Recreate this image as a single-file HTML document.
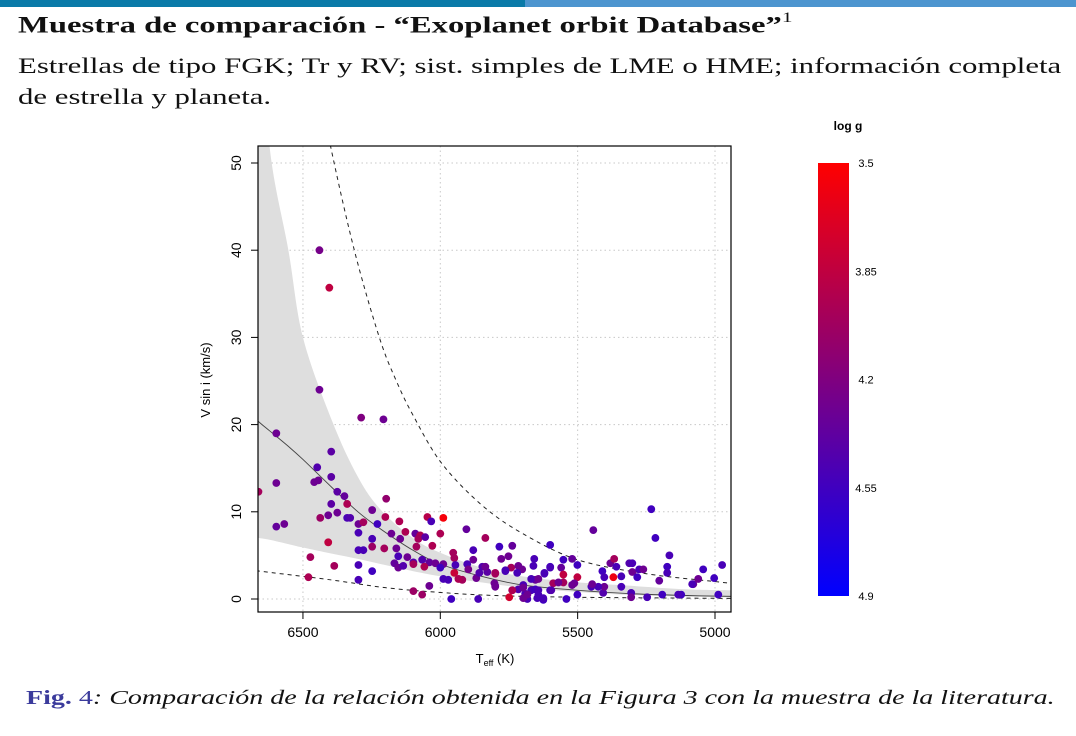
<!DOCTYPE html>
<html><head><meta charset="utf-8">
<style>
body{margin:0;width:1076px;height:736px;background:#fff;overflow:hidden;position:relative;font-family:"Liberation Serif",serif}
.bar1{position:absolute;left:0;top:0;width:525px;height:7px;background:#0a7aa8}
.bar2{position:absolute;left:525px;top:0;width:551px;height:7px;background:#4d95cf}
.title{position:absolute;left:18px;top:12px;font-size:23px;font-weight:bold;color:#111;white-space:nowrap;transform-origin:0 0;transform:scaleX(1.42)}
.title sup{font-weight:normal;font-size:15px;position:relative;top:-2px}
.sub{position:absolute;left:18px;top:50px;font-size:22px;line-height:31px;color:#111;white-space:nowrap;transform-origin:0 0;transform:scaleX(1.4)}
.cap{position:absolute;left:26px;top:687px;font-size:20px;font-style:italic;color:#111;white-space:nowrap;transform-origin:0 0;transform:scaleX(1.4)}
.cap b{font-style:normal;color:#3b3b9c}
.cap span{font-style:normal;color:#3b3b9c}
svg{position:absolute;left:0;top:0}
</style></head><body>
<div class="bar1"></div>
<div class="bar2"></div>
<div class="title">Muestra de comparación - “Exoplanet orbit Database”<sup>1</sup></div>
<div class="sub">Estrellas de tipo FGK; Tr y RV; sist. simples de LME o HME; información completa<br>de estrella y planeta.</div>
<div class="cap"><b>Fig.</b> <span>4</span>: Comparación de la relación obtenida en la Figura 3 con la muestra de la literatura.</div>
<svg id="chart" width="1076" height="736"></svg>
<script>
const xTicks=[6500,6000,5500,5000];
const yTicks=[0,10,20,30,40,50];
const curveT=[6700,6660,6622,6553,6500,6395,6300,6216,6100,6000,5850,5700,5500,5300,5100,4940];
const bandUpper=[90,70,52,40,30,20.5,14,10.2,7,5.3,3.6,2.6,1.9,1.5,1.1,1.0];
const bandLower=[7.2,7.0,6.8,6.3,5.9,5.2,4.6,4.0,3.2,2.6,1.9,1.3,0.8,0.45,0.25,0.2];
const centerV=[21.5,20.3,19.3,17.5,16.0,12.8,10.0,8.0,5.6,4.0,2.6,1.6,1.0,0.6,0.4,0.3];
const dashUT=[6460,6400,6313,6222,6160,6098,5996,5850,5700,5500,5250,5000,4940];
const dashUV=[62,52,40,30,25,21,15.6,10.8,7.5,4.5,2.9,2.0,1.8];
const dashLT=[6700,6659,6400,6200,6000,5800,5500,5000,4940];
const dashLV=[3.4,3.2,2.2,1.3,0.75,0.4,0.2,0.08,0.07];
const cbTicks=[3.5,3.85,4.2,4.55,4.9];
const pts=[[6440,40.0,4.25],[6404,35.7,3.85],[6440,24.0,4.3],[6288,20.8,4.2],[6207,20.6,4.3],[6597,19.0,4.3],[6397,16.9,4.4],[6448,15.1,4.45],[6597,13.3,4.3],[6459,13.4,4.3],[6444,13.6,4.3],[6397,14.0,4.4],[6375,12.3,4.4],[6349,11.8,4.35],[6339,10.9,3.95],[6197,11.5,4.1],[6397,10.9,4.4],[6662,12.3,4.0],[6248,10.2,4.3],[6375,9.9,4.3],[6408,9.6,4.3],[6437,9.3,4.05],[6339,9.3,4.5],[6328,9.3,4.45],[6298,8.6,4.3],[6280,8.8,4.0],[6229,8.6,4.55],[6200,9.4,3.95],[6149,8.9,3.95],[6047,9.4,3.9],[5989,9.3,3.55],[6033,8.9,4.5],[6597,8.3,4.35],[6568,8.6,4.3],[6298,7.6,4.5],[6408,6.5,3.85],[6473,4.8,4.0],[6480,2.5,3.95],[6386,3.8,4.0],[6298,5.6,4.5],[6298,2.2,4.5],[6248,3.2,4.55],[6298,3.9,4.5],[6248,6.9,4.5],[6280,5.6,4.5],
[6204,5.8,4.0],[6160,5.8,4.3],[6087,6.0,4.0],[6029,6.1,3.95],[6178,7.5,4.3],[6127,7.7,3.95],[6091,7.5,4.35],[6073,7.3,3.95],[6080,6.9,4.0],[6146,6.9,4.3],[6055,7.1,4.4],[6000,7.5,3.95],[5905,8.0,4.35],[5836,7.0,4.0],[6248,6.0,4.05],
[6153,4.9,4.5],[6120,4.8,4.3],[6167,4.1,4.35],[6098,4.2,4.45],[6066,4.5,4.45],[6040,4.2,4.35],[6018,4.1,4.3],[6153,3.6,4.3],[6135,3.8,4.45],[6098,4.0,4.0],[6058,3.7,3.95],[5989,4.0,4.3],[6000,3.6,4.55],[5953,5.3,4.0],[5949,4.7,4.0],[5945,3.9,4.5],[5880,5.6,4.5],[5880,4.5,4.3],[5902,4.0,4.5],[5898,3.4,4.25],[5847,3.7,4.45],[5829,3.1,4.4],[5800,3.0,4.0],[5785,6.0,4.55],[5778,4.6,4.3],[5752,4.9,4.3],[5738,6.1,4.35],[5763,3.2,4.5],[5742,3.6,4.0],[5716,3.8,4.3],[5702,3.4,4.3],[5658,4.6,4.5],[5661,3.8,4.5],[5600,6.2,4.55],[5600,3.7,4.55],[5560,3.6,4.35],[5552,4.5,4.55],[5589,1.8,4.0],[5552,1.9,4.0],[5621,2.9,4.5],[5654,2.2,4.35],[5669,2.3,4.5],
[5920,2.2,4.0],[5989,2.3,4.5],[5971,2.2,4.5],[5949,3.0,3.8],[5934,2.3,3.95],[5869,2.4,4.3],[5858,3.0,4.45],[5803,1.8,4.3],[5800,1.5,4.3],[5738,1.0,4.3],[5716,1.1,4.45],[5691,0.6,4.5],[5683,0.0,4.5],[5669,1.0,4.5],[5654,1.1,4.55],[5643,0.5,4.5],[5625,-0.1,4.55],[5647,0.1,4.5],[5600,1.0,4.55],[5541,0.0,4.55],[5749,0.2,3.75],[5862,0.0,4.5],[5960,0.0,4.55],[6098,0.9,4.05],[6066,0.5,4.05],[6040,1.5,4.3],
[5443,7.9,4.35],[5232,10.3,4.55],[5217,7.0,4.55],[5166,5.0,4.5],[5174,3.7,4.55],[5174,3.0,4.5],[5203,2.1,4.35],[5043,3.4,4.55],[4974,3.9,4.5],[5003,2.4,4.55],[5061,2.3,4.3],[5079,1.7,4.3],[5083,1.7,4.5],[4988,0.5,4.55],[5123,0.5,4.55],[5134,0.5,4.5],[5192,0.5,4.55],[5247,0.2,4.5],[5305,0.7,4.5],[5305,0.2,4.3],[5407,0.7,4.45],[5403,1.4,4.3],[5425,1.4,4.5],[5450,1.4,4.5],[5447,1.7,4.3],[5501,0.5,4.55],[5501,2.5,3.85],[5501,3.9,4.55],[5520,4.6,4.35],[5552,2.8,3.85],[5410,3.2,4.55],[5403,2.5,4.5],[5381,4.1,4.3],[5367,4.6,4.0],[5359,3.7,4.5],[5370,2.5,3.6],[5341,2.6,4.5],[5341,1.4,4.5],[5312,4.1,4.45],[5301,4.1,4.5],[5301,3.1,4.3],[5283,2.5,4.55],[5276,3.4,4.5],[5261,3.4,4.3],[5520,1.6,4.3],[5512,1.8,4.3],[5570,1.9,4.3],[5600,3.6,4.5],[5621,3.0,4.5],[5643,2.3,4.3],[5698,1.6,4.5],[5698,1.3,4.3],[5643,1.0,4.5],[5625,0.1,4.5],[5596,1.0,4.45],[5683,0.5,4.3],[5698,0.1,4.3],[5738,1.0,3.95],[5800,1.4,4.3],[5800,2.9,4.0],[5763,3.3,4.5],[5720,3.0,4.5],[5836,3.7,4.3]];

const NS='http://www.w3.org/2000/svg';
const svg=document.getElementById('chart');
const L=258,R=731,T=146,B=612;
const X=t=>440.3+(6000-t)*0.2747;
const Y=v=>599-v*8.72;
const G=g=>{const u=Math.max(0,Math.min(1,(g-3.5)/1.4));return `rgb(${Math.round(255*(1-u))},0,${Math.round(255*u)})`;};
function mk(tag,attrs,parent){const e=document.createElementNS(NS,tag);for(const k in attrs)e.setAttribute(k,attrs[k]);(parent||svg).appendChild(e);return e;}
function smooth(xs,ys){let d=`M${xs[0]},${ys[0]}`;for(let i=0;i<xs.length-1;i++){const x0=xs[Math.max(0,i-1)],y0=ys[Math.max(0,i-1)],x1=xs[i],y1=ys[i],x2=xs[i+1],y2=ys[i+1],x3=xs[Math.min(xs.length-1,i+2)],y3=ys[Math.min(xs.length-1,i+2)];d+=` C${x1+(x2-x0)/6},${y1+(y2-y0)/6} ${x2-(x3-x1)/6},${y2-(y3-y1)/6} ${x2},${y2}`;}return d;}

const defs=mk('defs',{});
const cp=mk('clipPath',{id:'pc'},defs);mk('rect',{x:L,y:T,width:R-L,height:B-T},cp);
const lg=mk('linearGradient',{id:'cbg',x1:0,y1:0,x2:0,y2:1},defs);
mk('stop',{offset:'0','stop-color':'#ff0000'},lg);mk('stop',{offset:'1','stop-color':'#0000ff'},lg);

xTicks.forEach(t=>{const l=mk('line',{x1:X(t),x2:X(t),y1:T,y2:B,stroke:'#c8c8c8','stroke-dasharray':'1.5,3'});});
yTicks.forEach(v=>{const l=mk('line',{x1:L,x2:R,y1:Y(v),y2:Y(v),stroke:'#c8c8c8','stroke-dasharray':'1.5,3'});});

const plot=mk('g',{'clip-path':'url(#pc)'});

const up=smooth(curveT.map(X),bandUpper.map(Y));
const lowR=smooth(curveT.map(X).reverse(),bandLower.map(Y).reverse());
const band=mk('path',{d:up+' L'+lowR.slice(1)+' Z',fill:'#dedede',stroke:'none'},plot);

const cl=mk('path',{d:smooth(curveT.map(X),centerV.map(Y)),fill:'none',stroke:'#444','stroke-width':0.9},plot);

const du=mk('path',{d:smooth(dashUT.map(X),dashUV.map(Y)),fill:'none',stroke:'#222','stroke-width':1,'stroke-dasharray':'4,4'},plot);

const dl=mk('path',{d:smooth(dashLT.map(X),dashLV.map(Y)),fill:'none',stroke:'#222','stroke-width':1,'stroke-dasharray':'4,4'},plot);

pts.forEach(p=>{const c=mk('circle',{cx:X(p[0]),cy:Y(p[1]),r:3.9,fill:G(p[2])},plot);

});

const fr=mk('rect',{x:L,y:T,width:R-L,height:B-T,fill:'none',stroke:'#000','stroke-width':1.2});

xTicks.forEach(t=>{mk('line',{x1:X(t),x2:X(t),y1:B,y2:B+7,stroke:'#000'});
const tx=mk('text',{x:X(t),y:B+25,'text-anchor':'middle','font-family':'Liberation Sans, sans-serif','font-size':14});tx.textContent=t;
});
yTicks.forEach(v=>{mk('line',{x1:L-7,x2:L,y1:Y(v),y2:Y(v),stroke:'#000'});
const tx=mk('text',{x:0,y:0,transform:`translate(241,${Y(v)}) rotate(-90)`,'text-anchor':'middle','font-family':'Liberation Sans, sans-serif','font-size':14});tx.textContent=v;
});
const yl=mk('text',{transform:'translate(210,380) rotate(-90)','text-anchor':'middle','font-family':'Liberation Sans, sans-serif','font-size':13});yl.textContent='V sin i (km/s)';

const xl=mk('text',{x:495,y:663,'text-anchor':'middle','font-family':'Liberation Sans, sans-serif','font-size':13});
xl.innerHTML='T<tspan font-size="9" dy="3">eff</tspan><tspan dy="-3"> (K)</tspan>';


const cb=mk('rect',{x:818,y:163,width:31,height:433,fill:'url(#cbg)'});

const ct=mk('text',{x:848,y:130,'text-anchor':'middle','font-family':'Liberation Sans, sans-serif','font-size':12,'font-weight':'bold'});ct.textContent='log g';

cbTicks.forEach(g=>{const y=163+(g-3.5)/1.4*433;
const tx=mk('text',{x:866,y:y+4,'text-anchor':'middle','font-family':'Liberation Sans, sans-serif','font-size':11});tx.textContent=g;
});
</script>
</body></html>
